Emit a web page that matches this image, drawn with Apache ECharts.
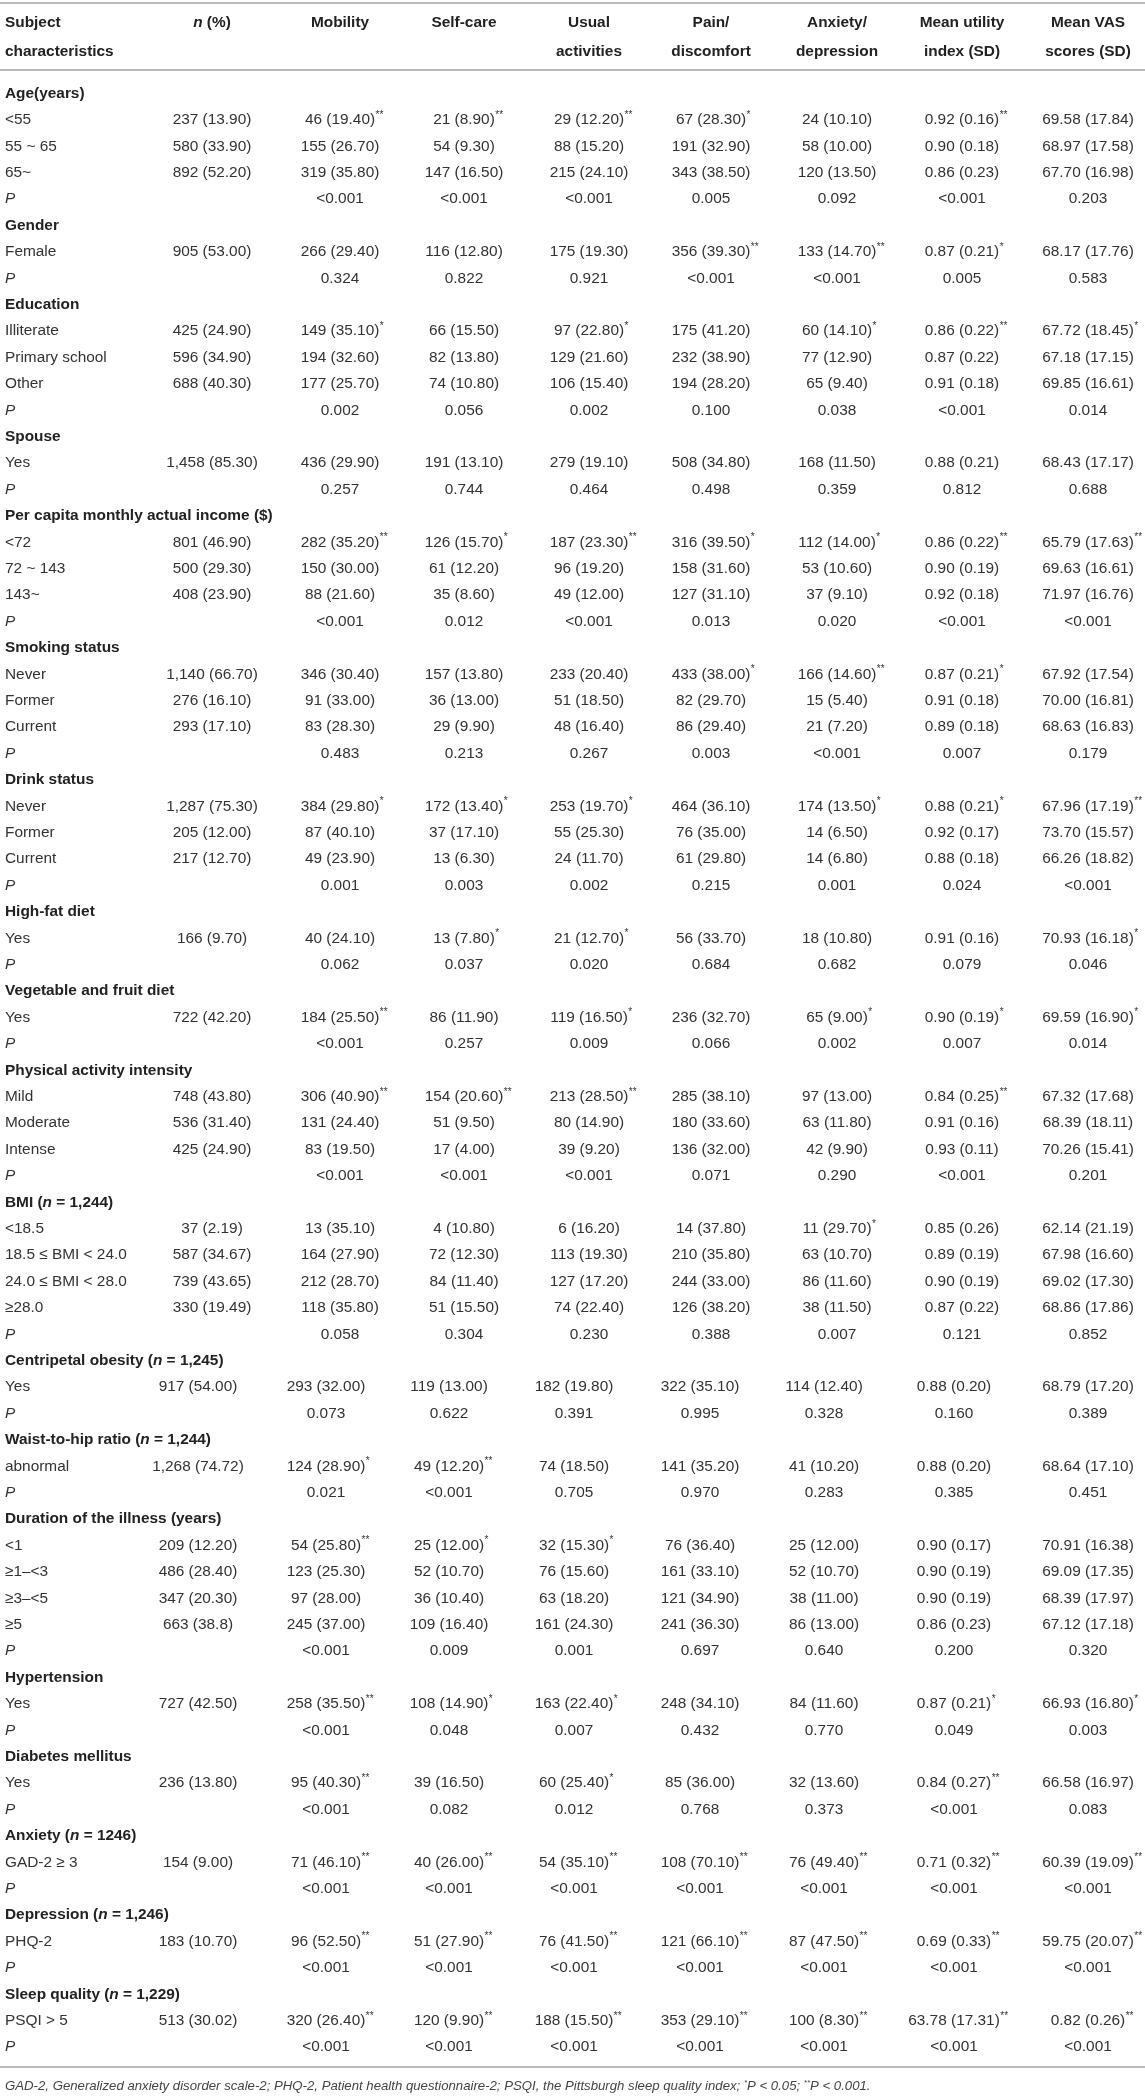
<!DOCTYPE html>
<html>
<head>
<meta charset="utf-8">
<title>EQ-5D dimensions by subject characteristics</title>
<script src="https://cdn.jsdelivr.net/npm/echarts@6/dist/echarts.min.js"></script>
<style>
    html, body { margin: 0; padding: 0; background: #fff; }
    #main { width: 1145px; height: 2100px; }
</style>
</head>
<body>
<div id="main"></div>
<script>
// ---- table content ----
var headers = ['Subject\ncharacteristics', 'n (%)', 'Mobility', 'Self-care', 'Usual\nactivities',
    'Pain/\ndiscomfort', 'Anxiety/\ndepression', 'Mean utility\nindex (SD)', 'Mean VAS\nscores (SD)'];

var rowLabels = [
    'Age(years)', '<55', '55 ~ 65', '65~', 'P',
    'Gender', 'Female', 'P',
    'Education', 'Illiterate', 'Primary school', 'Other', 'P',
    'Spouse', 'Yes', 'P',
    'Per capita monthly actual income ($)', '<72', '72 ~ 143', '143~', 'P',
    'Smoking status', 'Never', 'Former', 'Current', 'P',
    'Drink status', 'Never', 'Former', 'Current', 'P',
    'High-fat diet', 'Yes', 'P',
    'Vegetable and fruit diet', 'Yes', 'P',
    'Physical activity intensity', 'Mild', 'Moderate', 'Intense', 'P',
    'BMI (n = 1,244)', '<18.5', '18.5 ≤ BMI < 24.0', '24.0 ≤ BMI < 28.0', '≥28.0', 'P',
    'Centripetal obesity (n = 1,245)', 'Yes', 'P',
    'Waist-to-hip ratio (n = 1,244)', 'abnormal', 'P',
    'Duration of the illness (years)', '<1', '≥1–<3', '≥3–<5', '≥5', 'P',
    'Hypertension', 'Yes', 'P',
    'Diabetes mellitus', 'Yes', 'P',
    'Anxiety (n = 1246)', 'GAD-2 ≥ 3', 'P',
    'Depression (n = 1,246)', 'PHQ-2', 'P',
    'Sleep quality (n = 1,229)', 'PSQI > 5', 'P'
];

var nPct = [
    '', '237 (13.90)', '580 (33.90)', '892 (52.20)', '',
    '', '905 (53.00)', '',
    '', '425 (24.90)', '596 (34.90)', '688 (40.30)', '',
    '', '1,458 (85.30)', '',
    '', '801 (46.90)', '500 (29.30)', '408 (23.90)', '',
    '', '1,140 (66.70)', '276 (16.10)', '293 (17.10)', '',
    '', '1,287 (75.30)', '205 (12.00)', '217 (12.70)', '',
    '', '166 (9.70)', '',
    '', '722 (42.20)', '',
    '', '748 (43.80)', '536 (31.40)', '425 (24.90)', '',
    '', '37 (2.19)', '587 (34.67)', '739 (43.65)', '330 (19.49)', '',
    '', '917 (54.00)', '',
    '', '1,268 (74.72)', '',
    '', '209 (12.20)', '486 (28.40)', '347 (20.30)', '663 (38.8)', '',
    '', '727 (42.50)', '',
    '', '236 (13.80)', '',
    '', '154 (9.00)', '',
    '', '183 (10.70)', '',
    '', '513 (30.02)', ''
];

var mobility = [
    '', '46 (19.40)**', '155 (26.70)', '319 (35.80)', '<0.001',
    '', '266 (29.40)', '0.324',
    '', '149 (35.10)*', '194 (32.60)', '177 (25.70)', '0.002',
    '', '436 (29.90)', '0.257',
    '', '282 (35.20)**', '150 (30.00)', '88 (21.60)', '<0.001',
    '', '346 (30.40)', '91 (33.00)', '83 (28.30)', '0.483',
    '', '384 (29.80)*', '87 (40.10)', '49 (23.90)', '0.001',
    '', '40 (24.10)', '0.062',
    '', '184 (25.50)**', '<0.001',
    '', '306 (40.90)**', '131 (24.40)', '83 (19.50)', '<0.001',
    '', '13 (35.10)', '164 (27.90)', '212 (28.70)', '118 (35.80)', '0.058',
    '', '293 (32.00)', '0.073',
    '', '124 (28.90)*', '0.021',
    '', '54 (25.80)**', '123 (25.30)', '97 (28.00)', '245 (37.00)', '<0.001',
    '', '258 (35.50)**', '<0.001',
    '', '95 (40.30)**', '<0.001',
    '', '71 (46.10)**', '<0.001',
    '', '96 (52.50)**', '<0.001',
    '', '320 (26.40)**', '<0.001'
];

var selfCare = [
    '', '21 (8.90)**', '54 (9.30)', '147 (16.50)', '<0.001',
    '', '116 (12.80)', '0.822',
    '', '66 (15.50)', '82 (13.80)', '74 (10.80)', '0.056',
    '', '191 (13.10)', '0.744',
    '', '126 (15.70)*', '61 (12.20)', '35 (8.60)', '0.012',
    '', '157 (13.80)', '36 (13.00)', '29 (9.90)', '0.213',
    '', '172 (13.40)*', '37 (17.10)', '13 (6.30)', '0.003',
    '', '13 (7.80)*', '0.037',
    '', '86 (11.90)', '0.257',
    '', '154 (20.60)**', '51 (9.50)', '17 (4.00)', '<0.001',
    '', '4 (10.80)', '72 (12.30)', '84 (11.40)', '51 (15.50)', '0.304',
    '', '119 (13.00)', '0.622',
    '', '49 (12.20)**', '<0.001',
    '', '25 (12.00)*', '52 (10.70)', '36 (10.40)', '109 (16.40)', '0.009',
    '', '108 (14.90)*', '0.048',
    '', '39 (16.50)', '0.082',
    '', '40 (26.00)**', '<0.001',
    '', '51 (27.90)**', '<0.001',
    '', '120 (9.90)**', '<0.001'
];

var usualAct = [
    '', '29 (12.20)**', '88 (15.20)', '215 (24.10)', '<0.001',
    '', '175 (19.30)', '0.921',
    '', '97 (22.80)*', '129 (21.60)', '106 (15.40)', '0.002',
    '', '279 (19.10)', '0.464',
    '', '187 (23.30)**', '96 (19.20)', '49 (12.00)', '<0.001',
    '', '233 (20.40)', '51 (18.50)', '48 (16.40)', '0.267',
    '', '253 (19.70)*', '55 (25.30)', '24 (11.70)', '0.002',
    '', '21 (12.70)*', '0.020',
    '', '119 (16.50)*', '0.009',
    '', '213 (28.50)**', '80 (14.90)', '39 (9.20)', '<0.001',
    '', '6 (16.20)', '113 (19.30)', '127 (17.20)', '74 (22.40)', '0.230',
    '', '182 (19.80)', '0.391',
    '', '74 (18.50)', '0.705',
    '', '32 (15.30)*', '76 (15.60)', '63 (18.20)', '161 (24.30)', '0.001',
    '', '163 (22.40)*', '0.007',
    '', '60 (25.40)*', '0.012',
    '', '54 (35.10)**', '<0.001',
    '', '76 (41.50)**', '<0.001',
    '', '188 (15.50)**', '<0.001'
];

var painDisc = [
    '', '67 (28.30)*', '191 (32.90)', '343 (38.50)', '0.005',
    '', '356 (39.30)**', '<0.001',
    '', '175 (41.20)', '232 (38.90)', '194 (28.20)', '0.100',
    '', '508 (34.80)', '0.498',
    '', '316 (39.50)*', '158 (31.60)', '127 (31.10)', '0.013',
    '', '433 (38.00)*', '82 (29.70)', '86 (29.40)', '0.003',
    '', '464 (36.10)', '76 (35.00)', '61 (29.80)', '0.215',
    '', '56 (33.70)', '0.684',
    '', '236 (32.70)', '0.066',
    '', '285 (38.10)', '180 (33.60)', '136 (32.00)', '0.071',
    '', '14 (37.80)', '210 (35.80)', '244 (33.00)', '126 (38.20)', '0.388',
    '', '322 (35.10)', '0.995',
    '', '141 (35.20)', '0.970',
    '', '76 (36.40)', '161 (33.10)', '121 (34.90)', '241 (36.30)', '0.697',
    '', '248 (34.10)', '0.432',
    '', '85 (36.00)', '0.768',
    '', '108 (70.10)**', '<0.001',
    '', '121 (66.10)**', '<0.001',
    '', '353 (29.10)**', '<0.001'
];

var anxDep = [
    '', '24 (10.10)', '58 (10.00)', '120 (13.50)', '0.092',
    '', '133 (14.70)**', '<0.001',
    '', '60 (14.10)*', '77 (12.90)', '65 (9.40)', '0.038',
    '', '168 (11.50)', '0.359',
    '', '112 (14.00)*', '53 (10.60)', '37 (9.10)', '0.020',
    '', '166 (14.60)**', '15 (5.40)', '21 (7.20)', '<0.001',
    '', '174 (13.50)*', '14 (6.50)', '14 (6.80)', '0.001',
    '', '18 (10.80)', '0.682',
    '', '65 (9.00)*', '0.002',
    '', '97 (13.00)', '63 (11.80)', '42 (9.90)', '0.290',
    '', '11 (29.70)*', '63 (10.70)', '86 (11.60)', '38 (11.50)', '0.007',
    '', '114 (12.40)', '0.328',
    '', '41 (10.20)', '0.283',
    '', '25 (12.00)', '52 (10.70)', '38 (11.00)', '86 (13.00)', '0.640',
    '', '84 (11.60)', '0.770',
    '', '32 (13.60)', '0.373',
    '', '76 (49.40)**', '<0.001',
    '', '87 (47.50)**', '<0.001',
    '', '100 (8.30)**', '<0.001'
];

var utility = [
    '', '0.92 (0.16)**', '0.90 (0.18)', '0.86 (0.23)', '<0.001',
    '', '0.87 (0.21)*', '0.005',
    '', '0.86 (0.22)**', '0.87 (0.22)', '0.91 (0.18)', '<0.001',
    '', '0.88 (0.21)', '0.812',
    '', '0.86 (0.22)**', '0.90 (0.19)', '0.92 (0.18)', '<0.001',
    '', '0.87 (0.21)*', '0.91 (0.18)', '0.89 (0.18)', '0.007',
    '', '0.88 (0.21)*', '0.92 (0.17)', '0.88 (0.18)', '0.024',
    '', '0.91 (0.16)', '0.079',
    '', '0.90 (0.19)*', '0.007',
    '', '0.84 (0.25)**', '0.91 (0.16)', '0.93 (0.11)', '<0.001',
    '', '0.85 (0.26)', '0.89 (0.19)', '0.90 (0.19)', '0.87 (0.22)', '0.121',
    '', '0.88 (0.20)', '0.160',
    '', '0.88 (0.20)', '0.385',
    '', '0.90 (0.17)', '0.90 (0.19)', '0.90 (0.19)', '0.86 (0.23)', '0.200',
    '', '0.87 (0.21)*', '0.049',
    '', '0.84 (0.27)**', '<0.001',
    '', '0.71 (0.32)**', '<0.001',
    '', '0.69 (0.33)**', '<0.001',
    '', '63.78 (17.31)**', '<0.001'
];

var vas = [
    '', '69.58 (17.84)', '68.97 (17.58)', '67.70 (16.98)', '0.203',
    '', '68.17 (17.76)', '0.583',
    '', '67.72 (18.45)*', '67.18 (17.15)', '69.85 (16.61)', '0.014',
    '', '68.43 (17.17)', '0.688',
    '', '65.79 (17.63)**', '69.63 (16.61)', '71.97 (16.76)', '<0.001',
    '', '67.92 (17.54)', '70.00 (16.81)', '68.63 (16.83)', '0.179',
    '', '67.96 (17.19)**', '73.70 (15.57)', '66.26 (18.82)', '<0.001',
    '', '70.93 (16.18)*', '0.046',
    '', '69.59 (16.90)*', '0.014',
    '', '67.32 (17.68)', '68.39 (18.11)', '70.26 (15.41)', '0.201',
    '', '62.14 (21.19)', '67.98 (16.60)', '69.02 (17.30)', '68.86 (17.86)', '0.852',
    '', '68.79 (17.20)', '0.389',
    '', '68.64 (17.10)', '0.451',
    '', '70.91 (16.38)', '69.09 (17.35)', '68.39 (17.97)', '67.12 (17.18)', '0.320',
    '', '66.93 (16.80)*', '0.003',
    '', '66.58 (16.97)', '0.083',
    '', '60.39 (19.09)**', '<0.001',
    '', '59.75 (20.07)**', '<0.001',
    '', '0.82 (0.26)**', '<0.001'
];

var footnote = 'GAD-2, Generalized anxiety disorder scale-2; PHQ-2, Patient health questionnaire-2; ' +
    'PSQI, the Pittsburgh sleep quality index; *P < 0.05; **P < 0.001.';

// ---- layout (page pixels) ----
var W = 1145, H = 2100;
var labelX = 5;
// column centres: the lower part of the table (from "Centripetal obesity") sits a bit further left
var colsUpper = [212, 340, 464, 589, 711, 837, 962, 1088];
var colsLower = [198, 326, 449, 574, 700, 824, 954, 1088];
var splitRow = 48;
var rowTop = 80.4, rowH = 26.4;

var FONT = '"Liberation Sans", Arial, sans-serif';
var FS = 15.4;
var TXT = '#333';

var columns = [nPct, mobility, selfCare, usualAct, painDisc, anxDep, utility, vas];

var measureCtx = document.createElement('canvas').getContext('2d');
function textWidth(s, size, weight) {
    measureCtx.font = (weight || 'normal') + ' ' + size + 'px ' + FONT;
    return measureCtx.measureText(s).width;
}

function isSection(i) {
    if (rowLabels[i] === 'P') return false;
    return columns.every(function (c) { return c[i] === ''; });
}

// label with italic "n" in "(n = ...)"
function richLabel(label, style) {
    var m = label.match(/^(.*\()n( = .*)$/);
    if (!m) return '{' + style + '|' + label + '}';
    return '{' + style + '|' + m[1] + '}{' + style + 'i|n}{' + style + '|' + m[2] + '}';
}

var richStyles = {
    b: { fontFamily: FONT, fontSize: FS, fontWeight: 'bold', fill: '#222' },
    bi: { fontFamily: FONT, fontSize: FS, fontWeight: 'bold', fontStyle: 'italic', fill: '#222' },
    r: { fontFamily: FONT, fontSize: FS, fill: TXT },
    ri: { fontFamily: FONT, fontSize: FS, fontStyle: 'italic', fill: TXT }
};

// build cells: [colIndex (-1 = label), rowIndex]
var cells = [];
rowLabels.forEach(function (lab, r) {
    cells.push([-1, r]);
    columns.forEach(function (col, c) {
        if (col[r] !== '') cells.push([c, r]);
    });
});

function renderCell(params, api) {
    var c = api.value(0), r = api.value(1);
    if (c < 0) {
        var p = api.coord([labelX, r]);
        var lab = rowLabels[r];
        var txt = isSection(r) ? richLabel(lab, 'b') : (lab === 'P' ? '{ri|P}' : '{r|' + lab + '}');
        return {
            type: 'text', x: p[0], y: p[1],
            style: { text: txt, rich: richStyles, align: 'left', verticalAlign: 'middle' }
        };
    }
    var cx = (r >= splitRow ? colsLower : colsUpper)[c];
    var pt = api.coord([cx, r]);
    var raw = columns[c][r];
    var m = raw.match(/^(.*?)(\*+)$/);
    var val = m ? m[1] : raw;
    var children = [{
        type: 'text', x: 0, y: 0,
        style: { text: val, fontFamily: FONT, fontSize: FS, fill: TXT, align: 'center', verticalAlign: 'middle' }
    }];
    if (m) {
        children.push({
            type: 'text', x: textWidth(val, FS) / 2 + 0.5, y: -5,
            style: { text: m[2], fontFamily: FONT, fontSize: 10, fill: TXT, align: 'left', verticalAlign: 'middle' }
        });
    }
    return { type: 'group', x: pt[0], y: pt[1], children: children };
}

var chart = echarts.init(document.getElementById('main'), null, { renderer: 'canvas' });

chart.setOption({
    animation: false,
    backgroundColor: '#fff',
    grid: { left: 0, right: 0, top: rowTop, height: rowH * rowLabels.length },
    xAxis: { type: 'value', min: 0, max: W, show: false },
    yAxis: {
        type: 'category', inverse: true, show: false,
        data: rowLabels.map(function (l, i) { return i + ':' + l; })
    },
    series: [{
        type: 'custom',
        renderItem: renderCell,
        data: cells,
        silent: true
    }]
});

// header, rules and footnote
var graphics = [];
function rule(y) {
    graphics.push({ type: 'line', shape: { x1: 0, y1: y, x2: W, y2: y }, style: { stroke: '#b9b9b9', lineWidth: 2 } });
}
rule(3);
rule(70);
rule(2067);

var headLines = [23, 52];
headers.forEach(function (h, i) {
    var x = i === 0 ? chart.convertToPixel({ xAxisIndex: 0 }, labelX) :
        chart.convertToPixel({ xAxisIndex: 0 }, colsUpper[i - 1]);
    h.split('\n').forEach(function (line, k) {
        var txt = line === 'n (%)' ? '{bi|n}{b| (%)}' : '{b|' + line + '}';
        graphics.push({
            type: 'text', x: x, y: headLines[k],
            style: { text: txt, rich: richStyles, align: i === 0 ? 'left' : 'center', verticalAlign: 'middle' }
        });
    });
});

graphics.push({
    type: 'text', x: labelX, y: 2086,
    style: {
        text: footnote.replace(/(\*+)P/g, '{s|$1}{f|P}').replace(/^([^{]*)/, '{f|$1}')
            .replace(/\}([^{]+)\{/g, '}{f|$1}{').replace(/\}([^{}]+)$/, '}{f|$1}'),
        rich: {
            f: { fontFamily: FONT, fontSize: 13.2, fontStyle: 'italic', fill: '#444' },
            s: { fontFamily: FONT, fontSize: 8, fontStyle: 'italic', fill: '#444', verticalAlign: 'top', padding: [0, 0, 6, 0] }
        },
        align: 'left', verticalAlign: 'middle'
    }
});

chart.setOption({ graphic: graphics });
</script>
</body>
</html>
